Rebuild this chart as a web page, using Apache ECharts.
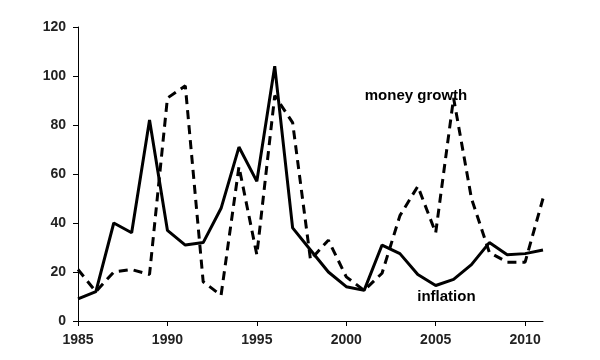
<!DOCTYPE html>
<html>
<head>
<meta charset="utf-8">
<script src="https://cdn.jsdelivr.net/npm/echarts@6/dist/echarts.min.js"></script>
<style>html,body{margin:0;padding:0;background:#fff}#c{width:600px;height:360px}</style>
</head>
<body>
<div id="c"></div>
<script>
const years = [1985,1986,1987,1988,1989,1990,1991,1992,1993,1994,1995,1996,1997,1998,1999,2000,2001,2002,2003,2004,2005,2006,2007,2008,2009,2010,2011];
const inflation = [9,12,40,36,82,37,31,32,46,71,57,104,38,29,20,14,12.5,31,27.5,19,14.5,17,23,32,27,27.5,29];
const moneyGrowth = [21,12,20,21,19,91,96,16,10.5,63,27,92,81,25,33,18,12.5,19.5,43,55,36,91,50,28,24,24,50];
const yTicks = {min:0, max:120, step:20};
const xTicks = {min:1985, max:2011, step:5};
const labels = [
  {text:'money growth', x:2003.9, y:91.8},
  {text:'inflation', x:2005.6, y:9.7}
];

const chart = echarts.init(document.getElementById('c'), null, {renderer:'canvas'});
const font = 'Liberation Sans, Arial, sans-serif';
chart.setOption({
  animation:false,
  backgroundColor:'#fff',
  grid:{left:78, right:57, top:27, bottom:39, containLabel:false},
  xAxis:{
    type:'value', min:xTicks.min, max:xTicks.max, interval:xTicks.step,
    axisLine:{lineStyle:{color:'#000', width:1}},
    axisTick:{show:true, length:5, inside:false, lineStyle:{color:'#000'}},
    splitLine:{show:false},
    axisLabel:{color:'#222', fontFamily:font, fontWeight:'bold', fontSize:14, margin:12,
      formatter: v => String(v)}
  },
  yAxis:{
    type:'value', min:yTicks.min, max:yTicks.max, interval:yTicks.step,
    axisLine:{show:true, lineStyle:{color:'#000', width:1}},
    axisTick:{show:true, length:5, inside:false, lineStyle:{color:'#000'}},
    splitLine:{show:false},
    axisLabel:{color:'#222', fontFamily:font, fontWeight:'bold', fontSize:14, margin:12}
  },
  series:[
    {
      name:'inflation', type:'line', symbol:'none',
      data: years.map((y,i)=>[y, inflation[i]]),
      lineStyle:{color:'#000', width:3, type:'solid'},
      z:3,
      markPoint:{
        symbol:'circle', symbolSize:0,
        label:{show:true, position:'inside', color:'#000', fontFamily:font, fontWeight:'bold', fontSize:15,
          formatter: p => p.name},
        data:[{name:labels[1].text, coord:[labels[1].x, labels[1].y]}]
      }
    },
    {
      name:'money growth', type:'line', symbol:'none',
      data: years.map((y,i)=>[y, moneyGrowth[i]]),
      lineStyle:{color:'#000', width:3, type:[9,6]},
      z:2,
      markPoint:{
        symbol:'circle', symbolSize:0,
        label:{show:true, position:'inside', color:'#000', fontFamily:font, fontWeight:'bold', fontSize:15,
          formatter: p => p.name},
        data:[{name:labels[0].text, coord:[labels[0].x, labels[0].y]}]
      }
    }
  ]
});
</script>
</body>
</html>
